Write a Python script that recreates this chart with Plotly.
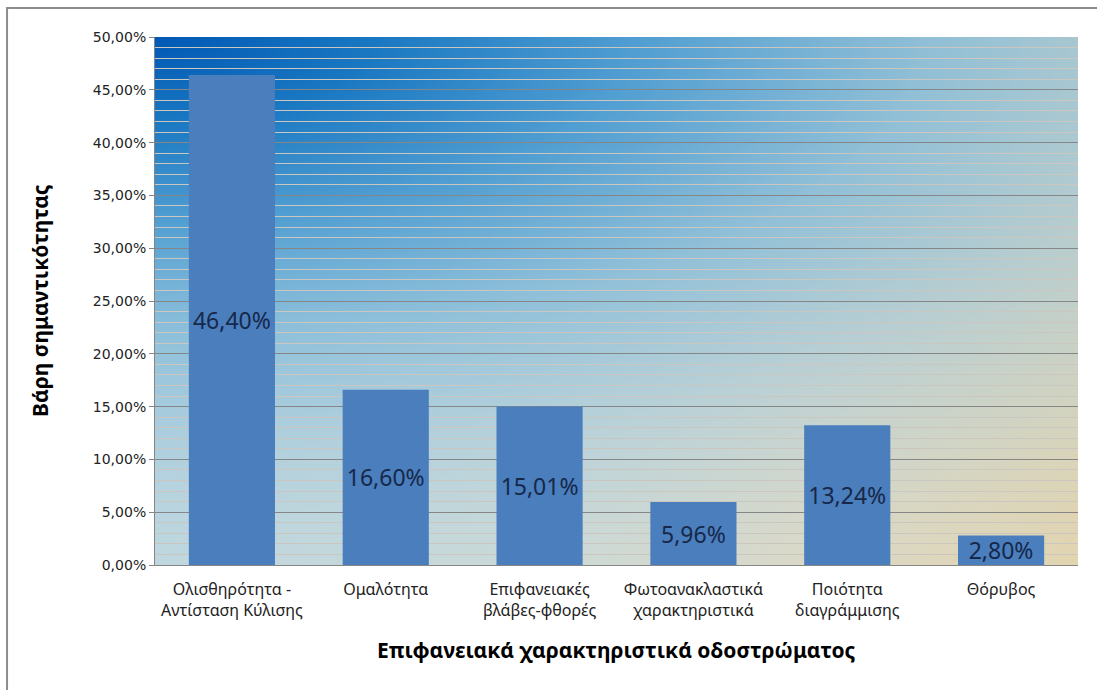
import base64
import plotly.graph_objects as go

# Pavement surface characteristics and their importance weights
categories = [
    "Ολισθηρότητα -<br>Αντίσταση Κύλισης",
    "Ομαλότητα",
    "Επιφανειακές<br>βλάβες-φθορές",
    "Φωτοανακλαστικά<br>χαρακτηριστικά",
    "Ποιότητα<br>διαγράμμισης",
    "Θόρυβος",
]
weights = [0.4640, 0.1660, 0.1501, 0.0596, 0.1324, 0.0280]

x_title = "Επιφανειακά χαρακτηριστικά οδοστρώματος"
y_title = "Βάρη σημαντικότητας"

# Plot-area background: blue glow from the upper-left over a blue-grey to beige wash
bg_svg = """<svg xmlns="http://www.w3.org/2000/svg" width="923" height="528" viewBox="0 0 923 528" preserveAspectRatio="none">
<defs>
<linearGradient id="base" x1="0" y1="0" x2="1" y2="0">
<stop offset="0" stop-color="#c4dadf"/>
<stop offset="0.4" stop-color="#d4dcd4"/>
<stop offset="0.7" stop-color="#e4dac0"/>
<stop offset="1" stop-color="#e8d4a8"/>
</linearGradient>
<radialGradient id="glow" gradientUnits="userSpaceOnUse" cx="0" cy="0" r="1850" gradientTransform="scale(1,0.38)">
<stop offset="0" stop-color="#0058b4" stop-opacity="1"/>
<stop offset="0.12" stop-color="#1a78c2" stop-opacity="1"/>
<stop offset="0.26" stop-color="#4c9cd2" stop-opacity="0.97"/>
<stop offset="0.42" stop-color="#86bcda" stop-opacity="0.88"/>
<stop offset="0.58" stop-color="#a4cade" stop-opacity="0.68"/>
<stop offset="0.78" stop-color="#b8d4e0" stop-opacity="0.3"/>
<stop offset="1" stop-color="#c0d8e0" stop-opacity="0"/>
</radialGradient>
</defs>
<rect x="0" y="0" width="923" height="528" fill="url(#base)"/>
<rect x="0" y="0" width="923" height="528" fill="url(#glow)"/>
</svg>"""
bg_uri = "data:image/svg+xml;base64," + base64.b64encode(bg_svg.encode("utf-8")).decode("ascii")

fig = go.Figure(
    go.Bar(
        x=categories,
        y=weights,
        width=0.56,
        marker=dict(color="#4a7ebd", line=dict(width=0)),
        texttemplate="%{y:.2%}",
        textposition="inside",
        insidetextanchor="middle",
        constraintext="none",
        textangle=0,
        textfont=dict(family="Noto Sans", size=23, color="#16284a"),
        hoverinfo="x+y",
    )
)

fig.update_layout(
    width=1097,
    height=690,
    margin=dict(l=155, r=19, t=37, b=125),
    paper_bgcolor="white",
    plot_bgcolor="rgba(0,0,0,0)",
    separators=",.",
    showlegend=False,
    images=[
        dict(
            source=bg_uri,
            xref="paper", yref="paper",
            x=0, y=1, sizex=1, sizey=1,
            xanchor="left", yanchor="top",
            sizing="stretch", layer="below",
        )
    ],
    xaxis=dict(
        showline=True,
        linecolor="#868686",
        linewidth=1,
        showgrid=False,
        ticks="",
        ticklabelstandoff=10,
        tickfont=dict(family="Noto Sans", size=16, color="#222222"),
        fixedrange=True,
    ),
    yaxis=dict(
        range=[0, 0.5],
        dtick=0.05,
        tickformat=".2%",
        showline=True,
        linecolor="#868686",
        linewidth=1,
        ticks="outside",
        ticklen=5,
        tickcolor="#868686",
        showgrid=True,
        gridcolor="#868686",
        gridwidth=1,
        zeroline=False,
        minor=dict(dtick=0.01, showgrid=True, gridcolor="#ccc6c0", gridwidth=1),
        tickfont=dict(family="DejaVu Sans", size=14, color="#222222"),
        fixedrange=True,
    ),
    annotations=[
        dict(
            text=y_title, textangle=-90,
            xref="paper", yref="paper", x=-0.1246, y=0.502,
            xanchor="center", yanchor="middle", showarrow=False,
            font=dict(family="Noto Sans", size=21, color="#000000", weight="bold"),
        ),
        dict(
            text=x_title,
            xref="paper", yref="paper", x=0.4995, y=-0.161,
            xanchor="center", yanchor="middle", showarrow=False,
            font=dict(family="Noto Sans", size=21, color="#000000", weight="bold"),
        ),
    ],
    shapes=[
        # outer chart frame (top and left edges fall inside the page)
        dict(
            type="rect", xref="paper", yref="paper",
            x0=-0.1603, x1=1.2, y0=-0.4, y1=1.0549,
            line=dict(color="#8c8c8c", width=2), fillcolor="rgba(0,0,0,0)",
            layer="below",
        )
    ],
)

fig.write_html("out.html")
